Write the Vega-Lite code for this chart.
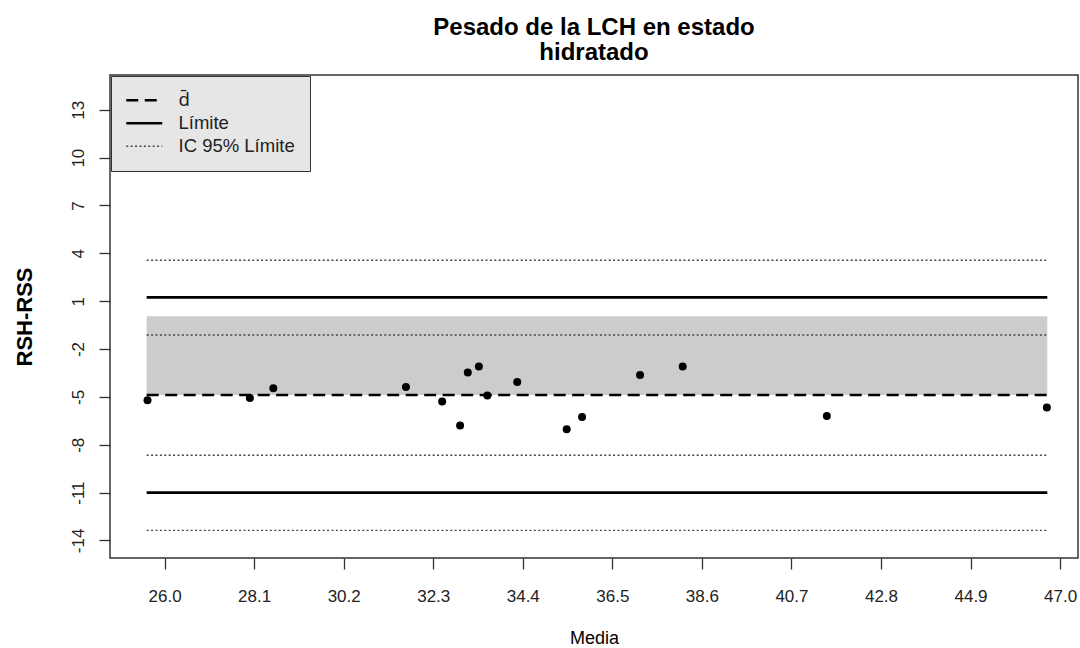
{
  "$schema": "https://vega.github.io/schema/vega-lite/v6.json",
  "autosize": {"type": "none"},
  "width": 968,
  "height": 483,
  "padding": {"left": 110, "top": 75, "right": 2, "bottom": 90},
  "background": "white",
  "title": {
    "text": ["Pesado de la LCH en estado", "hidratado"],
    "font": "Liberation Sans",
    "fontSize": 24,
    "fontWeight": "bold",
    "color": "black",
    "anchor": "middle",
    "lineHeight": 25,
    "offset": 10
  },
  "datasets": {
    "pts": [
      {"media": 25.60, "dif": -5.21},
      {"media": 28.00, "dif": -5.07},
      {"media": 28.55, "dif": -4.46},
      {"media": 31.66, "dif": -4.38},
      {"media": 32.51, "dif": -5.29},
      {"media": 32.93, "dif": -6.80},
      {"media": 33.11, "dif": -3.47},
      {"media": 33.37, "dif": -3.10},
      {"media": 33.57, "dif": -4.92},
      {"media": 34.27, "dif": -4.06},
      {"media": 35.43, "dif": -7.03},
      {"media": 35.79, "dif": -6.26},
      {"media": 37.15, "dif": -3.62},
      {"media": 38.15, "dif": -3.10},
      {"media": 41.53, "dif": -6.20},
      {"media": 46.69, "dif": -5.67}
    ],
    "lineas": [
      {"tipo": "d̄", "grupo": "principal", "valor": -4.88, "x_ini": 25.58, "x_fin": 46.70},
      {"tipo": "Límite", "grupo": "principal", "valor": 1.24, "x_ini": 25.58, "x_fin": 46.70},
      {"tipo": "Límite", "grupo": "principal", "valor": -11.0, "x_ini": 25.58, "x_fin": 46.70},
      {"tipo": "IC 95% Límite", "grupo": "ic", "valor": 3.57, "x_ini": 25.58, "x_fin": 46.70},
      {"tipo": "IC 95% Límite", "grupo": "ic", "valor": -1.12, "x_ini": 25.58, "x_fin": 46.70},
      {"tipo": "IC 95% Límite", "grupo": "ic", "valor": -8.66, "x_ini": 25.58, "x_fin": 46.70},
      {"tipo": "IC 95% Límite", "grupo": "ic", "valor": -13.37, "x_ini": 25.58, "x_fin": 46.70}
    ],
    "banda": [
      {"x_ini": 25.58, "x_fin": 46.70, "y_ini": -4.88, "y_fin": 0.06}
    ]
  },
  "layer": [
    {
      "data": {"name": "banda"},
      "mark": {"type": "rect", "color": "#cccccc"},
      "encoding": {
        "x": {"field": "x_ini", "type": "quantitative"},
        "x2": {"field": "x_fin"},
        "y": {"field": "y_ini", "type": "quantitative"},
        "y2": {"field": "y_fin"}
      }
    },
    {
      "data": {"name": "lineas"},
      "transform": [{"filter": "datum.grupo === 'ic'"}],
      "mark": {"type": "rule", "color": "#444444", "strokeWidth": 1.4},
      "encoding": {
        "x": {"field": "x_ini", "type": "quantitative"},
        "x2": {"field": "x_fin"},
        "y": {"field": "valor", "type": "quantitative"},
        "strokeDash": {
          "field": "tipo", "type": "nominal",
          "scale": {"domain": ["d̄", "Límite", "IC 95% Límite"], "range": [[12, 6.5], [1, 0], [2, 2.4]]},
          "legend": {
            "title": null,
            "encode": {
              "labels": {"update": {"font": {"signal": "datum.label === 'Límite' || datum.label === 'IC 95% Límite' ? 'Liberation Sans' : 'Noto Sans'"}}},
              "symbols": {"update": {
                "strokeWidth": {"signal": "datum.label === 'IC 95% Límite' ? 1.3 : 2.6"},
                "stroke": {"signal": "datum.label === 'IC 95% Límite' ? '#444444' : '#000000'"}
              }}
            }
          }
        }
      }
    },
    {
      "data": {"name": "lineas"},
      "transform": [{"filter": "datum.grupo === 'principal'"}],
      "mark": {"type": "rule", "color": "black", "strokeWidth": 2.6},
      "encoding": {
        "x": {"field": "x_ini", "type": "quantitative"},
        "x2": {"field": "x_fin"},
        "y": {"field": "valor", "type": "quantitative"},
        "strokeDash": {"field": "tipo", "type": "nominal"}
      }
    },
    {
      "data": {"name": "pts"},
      "mark": {"type": "circle", "size": 64, "color": "black", "opacity": 1},
      "encoding": {
        "x": {
          "field": "media", "type": "quantitative",
          "scale": {"domain": [24.72, 47.42], "nice": false, "zero": false},
          "axis": {
            "title": "Media",
            "values": [26, 28.1, 30.2, 32.3, 34.4, 36.5, 38.6, 40.7, 42.8, 44.9, 47],
            "format": ".1f"
          }
        },
        "y": {
          "field": "dif", "type": "quantitative",
          "scale": {"domain": [-15.1, 15.18], "nice": false, "zero": false},
          "axis": {
            "title": "RSH-RSS",
            "values": [-14, -11, -8, -5, -2, 1, 4, 7, 10, 13],
            "labelExpr": "'' + datum.value",
            "labelAngle": -90,
            "titleFontWeight": "bold",
            "titleFontSize": 22,
            "titlePadding": 33
          }
        }
      }
    }
  ],
  "config": {
    "font": "Liberation Sans",
    "view": {"stroke": "#333333", "strokeWidth": 1.5},
    "axis": {
      "grid": false,
      "domain": false,
      "tickSize": 11,
      "tickColor": "#333333",
      "tickWidth": 1.3,
      "labelFont": "Liberation Sans",
      "labelFontSize": 17,
      "labelColor": "#222222",
      "titleFont": "Liberation Sans",
      "titleColor": "black",
      "titleFontWeight": "normal",
      "titleFontSize": 18
    },
    "axisX": {"labelPadding": 19, "titlePadding": 25},
    "axisY": {"labelPadding": 12},
    "legend": {
      "orient": "none",
      "legendX": 1,
      "legendY": 1,
      "fillColor": "#e6e6e6",
      "strokeColor": "#333333",
      "padding": 15,
      "symbolType": "M-1.8,0H1.8",
      "symbolSize": 400,
      "symbolStrokeWidth": 2.4,
      "symbolStrokeColor": "black",
      "symbolOffset": 9,
      "labelFont": "Liberation Sans",
      "labelFontSize": 18.5,
      "labelColor": "#222222",
      "labelOffset": 25,
      "rowPadding": 4,
      "cornerRadius": 0
    }
  }
}
